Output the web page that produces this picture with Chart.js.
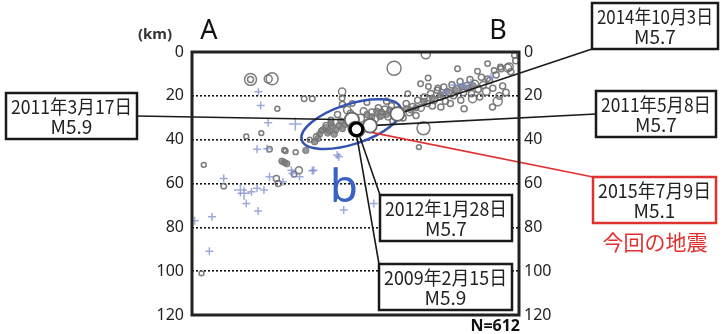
<!DOCTYPE html>
<html><head><meta charset="utf-8">
<script src="https://cdn.jsdelivr.net/npm/chart.js@4/dist/chart.umd.min.js"></script>
<style>html,body{margin:0;padding:0;background:#fff}#wrap{width:725px;height:334px}</style>
</head><body><div id="wrap"><canvas id="c" width="725" height="334"></canvas></div>
<script>
// depth axis ticks (km)
const depthTicks = [0, 20, 40, 60, 80, 100, 120];
const sampleCount = 'N=612';

// gray open circles: distance along A-B (0..100), depth (km), magnitude
const eqDist = [17.9,17.9,24.5,23.3,26.1,21.2,16.6,23.7,3.6,28.6,31.7,34.3,36.8,32.7,31.2,25.8,26.4,9.7,2.9,61.8,71.5,98.6,81.2,90.4,87.3,92.4,94.5,96.5,90.4,72.2,69.9,72.3,75.2,66.0,69.4,70.8,93.5,91.9,85.8,82.2,83.2,76.1,97.0,94.3,45.9,45.9,47.5,51.5,36.0,38.0,39.5,41.0,42.5,44.5,46.0,48.5,49.0,52.5,55.0,56.0,57.0,58.0,59.0,60.0,61.0,61.5,63.5,64.5,65.5,66.5,67.5,68.5,69.0,70.0,71.0,72.0,73.0,74.0,75.0,76.0,77.0,77.5,78.5,79.5,80.0,81.0,82.0,83.0,84.0,85.0,85.5,86.5,87.5,88.5,89.0,90.0,91.0,92.0,94.0,95.0,96.0,93.0,97.5,28.2,73.5,79.0,88.0,53.5,59.5,99.0];
const eqDepth = [12.5,12.5,12.2,12.3,25.9,37.0,38.5,44.4,51.5,45.2,45.7,21.3,21.3,54.0,55.8,57.7,60.0,61.2,101.0,7.4,1.0,1.5,7.6,5.3,8.8,8.4,7.6,7.3,12.2,11.9,14.5,15.7,16.4,19.0,43.4,34.8,22.5,25.1,21.3,22.0,25.9,25.1,6.8,6.8,18.1,21.1,26.5,30.2,40.0,38.5,36.0,33.5,31.0,28.5,24.0,28.0,23.5,27.0,27.5,30.5,25.5,28.5,26.0,29.5,24.5,31.5,26.5,30.0,23.5,27.5,25.0,29.0,22.0,25.5,20.5,23.5,19.0,22.0,17.5,20.5,16.0,22.5,18.5,15.0,20.0,17.0,13.5,18.5,15.5,12.5,19.0,14.5,17.0,11.5,15.0,18.0,13.0,16.5,20.0,15.5,18.5,10.5,9.0,44.7,24.5,23.5,20.5,23.0,22.5,4.0];
const eqMag = [4.7,1.6,4.7,2.6,1.0,1.0,1.0,1.3,1.0,1.0,1.0,1.3,1.3,2.1,1.3,1.6,1.6,1.3,1.0,5.8,3.2,1.3,1.3,1.3,1.3,1.3,1.6,2.6,1.3,1.3,1.3,1.3,1.3,1.3,1.0,5.3,3.2,1.6,2.6,1.6,1.6,1.6,2.6,1.3,2.2,1.3,2.4,2.6,1.0,1.3,1.0,1.6,1.3,1.6,1.6,1.6,1.3,2.0,1.8,2.0,1.6,2.2,1.6,2.0,1.6,1.8,2.0,1.8,1.6,2.0,1.8,1.6,1.6,2.0,1.6,1.6,1.8,2.0,1.6,1.8,1.6,1.6,2.0,1.6,1.6,2.2,1.6,1.8,2.0,1.6,1.6,2.2,1.8,1.6,2.0,2.4,1.6,1.6,2.0,1.6,1.8,1.6,1.6,1.0,1.8,1.6,1.6,1.3,1.6,1.6];

// densely packed events (drawn as filled gray)
const denseDist = [40.0,41.0,42.0,43.0,44.0,45.0,46.0,47.0,43.5,41.5,39.0,45.5,48.0,42.5,38.5,37.5,53.5,55.0,56.5,58.0,59.5,60.5,57.5,62.0,64.0,65.5,67.0,68.5,71.0,73.5,76.0,78.0,80.5,82.5,84.5,86.0,27.5,28.3,29.0,34.8];
const denseDepth = [35.5,34.5,36.0,34.0,35.5,33.5,35.0,33.0,37.5,37.0,37.5,31.5,31.5,32.5,39.5,41.0,28.5,29.5,27.0,27.5,28.5,26.5,29.5,27.0,28.0,26.0,26.5,25.5,22.5,21.0,19.5,18.0,17.5,16.0,16.5,15.5,49.8,50.4,51.0,44.9];

// blue "+" events
const crossDist = [19.9,9.7,14.8,15.9,18.2,19.9,22.0,16.6,20.2,6.1,0.8,5.3,23.7,27.8,32.9,36.8,30.7,21.0,23.3,31.6,23.0,30.4,46.4,55.6,44.9,80.1,83.7,85.3,77.6,91.4,82.7,20.3,37.2,44.4];
const crossDepth = [44.4,57.7,63.0,64.5,63.8,62.2,63.0,69.1,72.5,75.2,77.0,90.9,56.9,59.2,56.9,54.2,55.4,24.4,32.3,32.9,44.2,54.0,72.1,69.1,47.8,15.1,16.4,14.2,18.3,11.4,15.2,18.1,53.9,47.0];
const crossMag = [1,1,2,2,1,1,1,1,1,1,1,1,1,1,1,1,1,1,1,2,1,1,1,1,1,1,1,1,1,1,1,1,1,1];

// labelled events
const keyDates = ['2011年3月17日','2011年5月8日','2014年10月3日','2012年1月28日','2009年2月15日','2015年7月9日'];
const keyMags = [5.9, 5.7, 5.7, 5.7, 5.9, 5.1];
const keyDist = [48.9, 54.4, 62.8, 50.6, 50.0, 50.3];
const keyDepth = [30.9, 33.6, 28.3, 35.6, 35.0, 35.3];
const currentIndex = 5;
const currentLabel = '今回の地震';
const regionLabel = 'b';
const regionCenter = [48.7, 32.9];
const endLabels = ['A', 'B'];
const unitLabel = '(km)';

const magR = m => 1.5 + 0.95 * m;
const pts = (xs, ys) => xs.map((x, i) => ({x, y: ys[i]}));

// label boxes (layout, canvas px)
const boxes = [
  {x:6,y:93,w:131,h:46,ax:137,ay:116},
  {x:596,y:91,w:120,h:46,ax:596,ay:114},
  {x:592,y:3,w:126,h:46,ax:592,ay:49},
  {x:380,y:195,w:132,h:46,ax:380,ay:195},
  {x:379,y:264,w:133,h:46,ax:379,ay:264},
  {x:593,y:177,w:123,h:46,ax:593,ay:177}
];
const RED = '#e0312f';
const JP = '"Noto Sans CJK JP", "Noto Sans", sans-serif';

const annot = {
  id: 'annot',
  beforeDatasetDraw(chart, args) {
    if (args.index !== 0) return;
    const ctx = chart.ctx, xs = chart.scales.x, ys = chart.scales.y;
    ctx.save();
    const cx = xs.getPixelForValue(regionCenter[0]), cy = ys.getPixelForValue(regionCenter[1]);
    ctx.beginPath();
    ctx.ellipse(cx, cy, 52, 20, -18 * Math.PI / 180, 0, Math.PI * 2);
    ctx.strokeStyle = '#3553b0'; ctx.lineWidth = 2.5; ctx.stroke();
    keyDist.forEach((d, i) => {
      const px = xs.getPixelForValue(d), py = ys.getPixelForValue(keyDepth[i]);
      ctx.beginPath(); ctx.moveTo(px, py); ctx.lineTo(boxes[i].ax, boxes[i].ay);
      ctx.strokeStyle = i === currentIndex ? RED : '#1a1a1a';
      ctx.lineWidth = 1.6; ctx.stroke();
    });
    ctx.restore();
  },
  afterDraw(chart) {
    const ctx = chart.ctx, a = chart.chartArea;
    ctx.save();
    ctx.strokeStyle = '#222'; ctx.lineWidth = 3;
    ctx.strokeRect(a.left, a.top, a.right - a.left, a.bottom - a.top);
    // boxes
    boxes.forEach((b, i) => {
      const red = i === currentIndex;
      ctx.fillStyle = '#fff'; ctx.fillRect(b.x, b.y, b.w, b.h);
      ctx.strokeStyle = red ? RED : '#1a1a1a'; ctx.lineWidth = 2.5;
      ctx.strokeRect(b.x, b.y, b.w, b.h);
      ctx.fillStyle = '#222'; ctx.textAlign = 'center'; ctx.textBaseline = 'middle';
      ctx.font = '19px ' + JP;
      ctx.fillText(keyDates[i], b.x + b.w / 2, b.y + 14, b.w - 10);
      ctx.fillText('M' + keyMags[i].toFixed(1), b.x + b.w / 2, b.y + 34);
    });
    ctx.fillStyle = RED; ctx.font = '21px ' + JP;
    ctx.fillText(currentLabel, 655, 242);
    // other text
    ctx.fillStyle = '#111';
    ctx.font = '27px "Noto Sans", sans-serif';
    ctx.fillText(endLabels[0], 209, 31);
    ctx.fillText(endLabels[1], 498, 31);
    ctx.fillStyle = '#333'; ctx.font = 'bold 15px "Noto Sans", sans-serif';
    ctx.fillText(unitLabel, 155, 35);
    ctx.fillStyle = '#3a62c4'; ctx.font = '46px "Noto Sans", sans-serif';
    ctx.textBaseline = 'alphabetic';
    ctx.fillText(regionLabel, 344, 202);
    ctx.fillStyle = '#111'; ctx.font = 'bold 16px "Noto Sans", sans-serif';
    ctx.textAlign = 'right'; ctx.textBaseline = 'top';
    ctx.fillText(sampleCount, 520, 318);
    ctx.restore();
  }
};

const tickFont = {family: '"Noto Sans", sans-serif', size: 16};
new Chart(document.getElementById('c'), {
  type: 'scatter',
  data: {
    datasets: [
      {
        data: pts(keyDist, keyDepth),
        pointStyle: 'circle',
        pointRadius: c => magR(keyMags[c.dataIndex]),
        pointBackgroundColor: '#fff',
        pointBorderColor: c => c.dataIndex === currentIndex ? '#000' : '#666',
        pointBorderWidth: c => c.dataIndex === currentIndex ? 3.2 : 1.8
      },
      {
        data: pts(crossDist, crossDepth),
        pointStyle: 'cross',
        pointRadius: c => crossMag[c.dataIndex] === 2 ? 6.5 : 4,
        pointBorderColor: 'rgba(125,142,205,0.75)',
        pointBorderWidth: 1.5
      },
      {
        data: pts(denseDist, denseDepth),
        pointRadius: 3.2,
        pointBackgroundColor: 'rgba(125,125,125,0.8)',
        pointBorderColor: 'rgba(110,110,110,0.8)',
        pointBorderWidth: 1
      },
      {
        data: pts(eqDist, eqDepth),
        pointRadius: c => magR(eqMag[c.dataIndex]),
        pointBackgroundColor: 'rgba(0,0,0,0)',
        pointBorderColor: 'rgba(110,110,110,0.9)',
        pointBorderWidth: 1.5
      }
    ]
  },
  options: {
    responsive: false, animation: false, events: [],
    layout: {padding: {left: 0, right: 0, top: 52, bottom: 19}},
    plugins: {legend: {display: false}, tooltip: {enabled: false}},
    scales: {
      x: {type: 'linear', min: 0, max: 100, display: false},
      y: {
        type: 'linear', position: 'left', reverse: true, min: 0, max: 120,
        afterBuildTicks: s => { s.ticks = depthTicks.map(v => ({value: v})); },
        afterFit: s => { s.width = 192; },
        ticks: {font: tickFont, color: '#222', padding: 8},
        grid: {drawTicks: false, lineWidth: 1.6,
          color: c => (c.tick && (c.tick.value === 0 || c.tick.value === 120)) ? 'rgba(0,0,0,0)' : '#111'},
        border: {display: false, dash: [2, 2]}
      },
      y2: {
        type: 'linear', position: 'right', reverse: true, min: 0, max: 120,
        afterBuildTicks: s => { s.ticks = depthTicks.map(v => ({value: v})); },
        afterFit: s => { s.width = 206; },
        ticks: {font: tickFont, color: '#222', padding: 5},
        grid: {display: false, drawTicks: false},
        border: {display: false}
      }
    }
  },
  plugins: [annot]
});
</script></body></html>
